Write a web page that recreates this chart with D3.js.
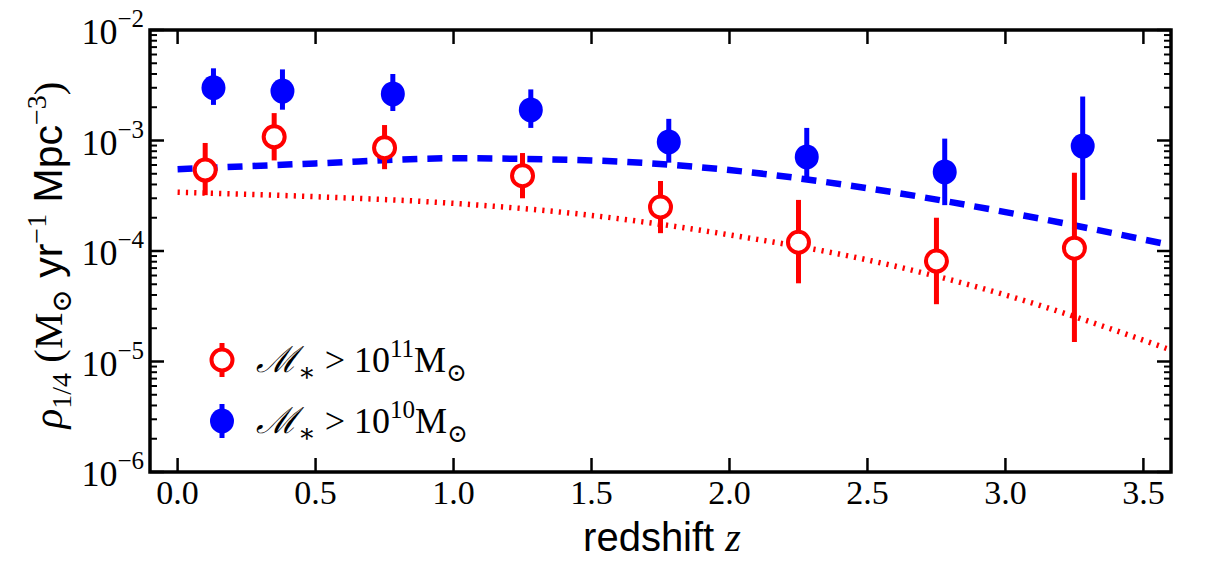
<!DOCTYPE html>
<html><head><meta charset="utf-8">
<script src="https://cdn.jsdelivr.net/npm/d3@7"></script>
<style>body{margin:0;background:#fff}svg{display:block}</style>
</head><body>
<svg id="c" width="1206" height="563"></svg>
<script>
// ---- data ----
const zRed  = [0.10, 0.35, 0.75, 1.25, 1.75, 2.25, 2.75, 3.25];
const yRed  = [5.4e-4, 1.08e-3, 8.6e-4, 4.8e-4, 2.5e-4, 1.2e-4, 8.1e-5, 1.06e-4];
const yRedHi= [9.5e-4, 1.77e-3, 1.38e-3, 7.7e-4, 4.3e-4, 2.9e-4, 2.0e-4, 5.1e-4];
const yRedLo= [3.2e-4, 6.6e-4, 5.5e-4, 3.0e-4, 1.45e-4, 5.1e-5, 3.3e-5, 1.5e-5];

const zBlue  = [0.13, 0.38, 0.78, 1.28, 1.78, 2.28, 2.78, 3.28];
const yBlue  = [3.0e-3, 2.8e-3, 2.64e-3, 1.89e-3, 9.7e-4, 7.1e-4, 5.2e-4, 8.9e-4];
const yBlueHi= [4.5e-3, 4.4e-3, 4.0e-3, 2.9e-3, 1.57e-3, 1.3e-3, 1.04e-3, 2.5e-3];
const yBlueLo= [2.1e-3, 1.9e-3, 1.85e-3, 1.3e-3, 6.3e-4, 4.4e-4, 2.6e-4, 2.9e-4];

const zCurve    = [0.0, 0.5, 1.0, 1.5, 2.0, 2.5, 3.0, 3.6];
const blueCurve = [5.5e-4, 6.2e-4, 6.9e-4, 6.6e-4, 5.4e-4, 3.7e-4, 2.25e-4, 1.13e-4];
const redCurve  = [3.4e-4, 3.1e-4, 2.7e-4, 2.1e-4, 1.4e-4, 8.3e-5, 4.0e-5, 1.27e-5];

const xTicks = [0.0, 0.5, 1.0, 1.5, 2.0, 2.5, 3.0, 3.5];
const xTickLabels = ["0.0","0.5","1.0","1.5","2.0","2.5","3.0","3.5"];
const yTicks = [1e-6, 1e-5, 1e-4, 1e-3, 1e-2];
const yTickExps = ["\u22126","\u22125","\u22124","\u22123","\u22122"];

// ---- drawing ----
const svg = d3.select("#c");
const L = 150, R = 1171, T = 30, B = 472;
const x = d3.scaleLinear().domain([-0.1, 3.6]).range([L, R]);
const y = d3.scaleLog().domain([1e-6, 1e-2]).range([B, T]);
const serif = "'Liberation Serif','DejaVu Serif',serif";
const sans = "'Liberation Sans',Arial,sans-serif";
const RED = "#ff0000", BLUE = "#0000ff";

const minor = [];
for (let e = -6; e < -2; e++) for (let m = 2; m <= 9; m++) minor.push(m * Math.pow(10, e));

const g = svg.append("g");
function yTicksAt(xpos, dir) {
  g.selectAll(null).data(yTicks).enter().append("line")
    .attr("x1", xpos).attr("x2", xpos + dir * 14)
    .attr("y1", d => y(d)).attr("y2", d => y(d))
    .attr("stroke", "#000").attr("stroke-width", 2.5);
  g.selectAll(null).data(minor).enter().append("line")
    .attr("x1", xpos).attr("x2", xpos + dir * 7)
    .attr("y1", d => y(d)).attr("y2", d => y(d))
    .attr("stroke", "#000").attr("stroke-width", 2);
}
yTicksAt(L, 1); yTicksAt(R, -1);
function xTicksAt(ypos, dir) {
  g.selectAll(null).data(xTicks).enter().append("line")
    .attr("x1", d => x(d)).attr("x2", d => x(d))
    .attr("y1", ypos).attr("y2", ypos + dir * 14)
    .attr("stroke", "#000").attr("stroke-width", 2.5);
}
xTicksAt(B, -1); xTicksAt(T, 1);

// curves
const lineGen = d3.line().x(d => x(d[0])).y(d => y(d[1])).curve(d3.curveMonotoneX);
svg.append("path").datum(zCurve.map((z, i) => [z, redCurve[i]]))
  .attr("d", lineGen).attr("fill", "none").attr("stroke", RED)
  .attr("stroke-width", 5.5).attr("stroke-dasharray", "2.2,6.1");
svg.append("path").datum(zCurve.map((z, i) => [z, blueCurve[i]]))
  .attr("d", lineGen).attr("fill", "none").attr("stroke", BLUE)
  .attr("stroke-width", 6.5).attr("stroke-dasharray", "15,10");

// error bars + markers
function series(zs, ys, hi, lo, color, filled) {
  const gg = svg.append("g");
  gg.selectAll(null).data(zs).enter().append("line")
    .attr("x1", d => x(d)).attr("x2", d => x(d))
    .attr("y1", (d, i) => y(hi[i])).attr("y2", (d, i) => y(lo[i]))
    .attr("stroke", color).attr("stroke-width", 5);
  gg.selectAll(null).data(zs).enter().append("ellipse")
    .attr("cx", d => x(d)).attr("cy", (d, i) => y(ys[i]))
    .attr("rx", filled ? 12 : 10.5).attr("ry", filled ? 12.5 : 10.5)
    .attr("fill", filled ? color : "#fff").attr("stroke", color)
    .attr("stroke-width", filled ? 0 : 4);
}
series(zRed, yRed, yRedHi, yRedLo, RED, false);
series(zBlue, yBlue, yBlueHi, yBlueLo, BLUE, true);

// frame
svg.append("rect").attr("x", L).attr("y", T).attr("width", R - L).attr("height", B - T)
  .attr("fill", "none").attr("stroke", "#000").attr("stroke-width", 3.5);

// x tick labels
svg.selectAll(null).data(xTicks).enter().append("text")
  .attr("x", d => x(d)).attr("y", 504).attr("text-anchor", "middle")
  .attr("font-family", serif).attr("font-size", 34).text((d, i) => xTickLabels[i]);

// y tick labels
yTicks.forEach((v, i) => {
  const t = svg.append("text").attr("x", 144).attr("y", y(v) + 14).attr("text-anchor", "end")
    .attr("font-family", serif).attr("font-size", 36);
  t.append("tspan").text("10");
  t.append("tspan").attr("dy", -17).attr("font-size", 25).text(yTickExps[i]);
});

// x label
const xl = svg.append("text").attr("x", 662).attr("y", 551).attr("text-anchor", "middle")
  .attr("font-family", sans).attr("font-size", 40);
xl.append("tspan").text("redshift ");
xl.append("tspan").attr("font-family", serif).attr("font-style", "italic").text("z");

// y label
const yl = svg.append("text").attr("transform", "translate(62,255) rotate(-90)")
  .attr("text-anchor", "middle").attr("font-size", 41).attr("font-family", sans);
yl.append("tspan").attr("font-family", serif).attr("font-style", "italic").text("\u03C1");
yl.append("tspan").attr("font-family", serif).attr("font-size", 28).attr("dy", 9).text("1/4");
yl.append("tspan").attr("font-family", serif).attr("dy", -9).text(" (M");
yl.append("tspan").attr("font-family", serif).attr("font-size", 28).attr("dy", 9).text("\u2299");
yl.append("tspan").attr("dy", -9).text(" yr");
yl.append("tspan").attr("font-family", serif).attr("font-size", 28).attr("dy", -16).text("\u22121");
yl.append("tspan").attr("dy", 16).text(" Mpc");
yl.append("tspan").attr("font-family", serif).attr("font-size", 28).attr("dy", -16).text("\u22123");
yl.append("tspan").attr("font-family", serif).attr("dy", 16).text(")");

// legend
const legendLabels = ["11", "10"];
const legendColors = [RED, BLUE];
const legendFilled = [false, true];
const legendY = [360, 421];
legendLabels.forEach((lab, i) => {
  const cy = legendY[i], cx = 222;
  svg.append("line").attr("x1", cx).attr("x2", cx).attr("y1", cy - 17).attr("y2", cy + 17)
    .attr("stroke", legendColors[i]).attr("stroke-width", 5);
  svg.append("ellipse").attr("cx", cx).attr("cy", cy)
    .attr("rx", legendFilled[i] ? 12 : 10.5).attr("ry", legendFilled[i] ? 12.5 : 10.5)
    .attr("fill", legendFilled[i] ? legendColors[i] : "#fff")
    .attr("stroke", legendColors[i]).attr("stroke-width", legendFilled[i] ? 0 : 4);
  const t = svg.append("text").attr("x", 256).attr("y", cy + 12)
    .attr("font-family", serif).attr("font-size", 36);
  t.append("tspan").attr("font-style", "italic").text("\u2133");
  t.append("tspan").attr("font-size", 26).attr("dy", 9).text("\u2217");
  t.append("tspan").attr("dy", -9).text(" > 10");
  t.append("tspan").attr("font-size", 25).attr("dy", -15).text(lab);
  t.append("tspan").attr("dy", 15).text("M");
  t.append("tspan").attr("font-size", 25).attr("dy", 9).text("\u2299");
});
</script>
</body></html>
